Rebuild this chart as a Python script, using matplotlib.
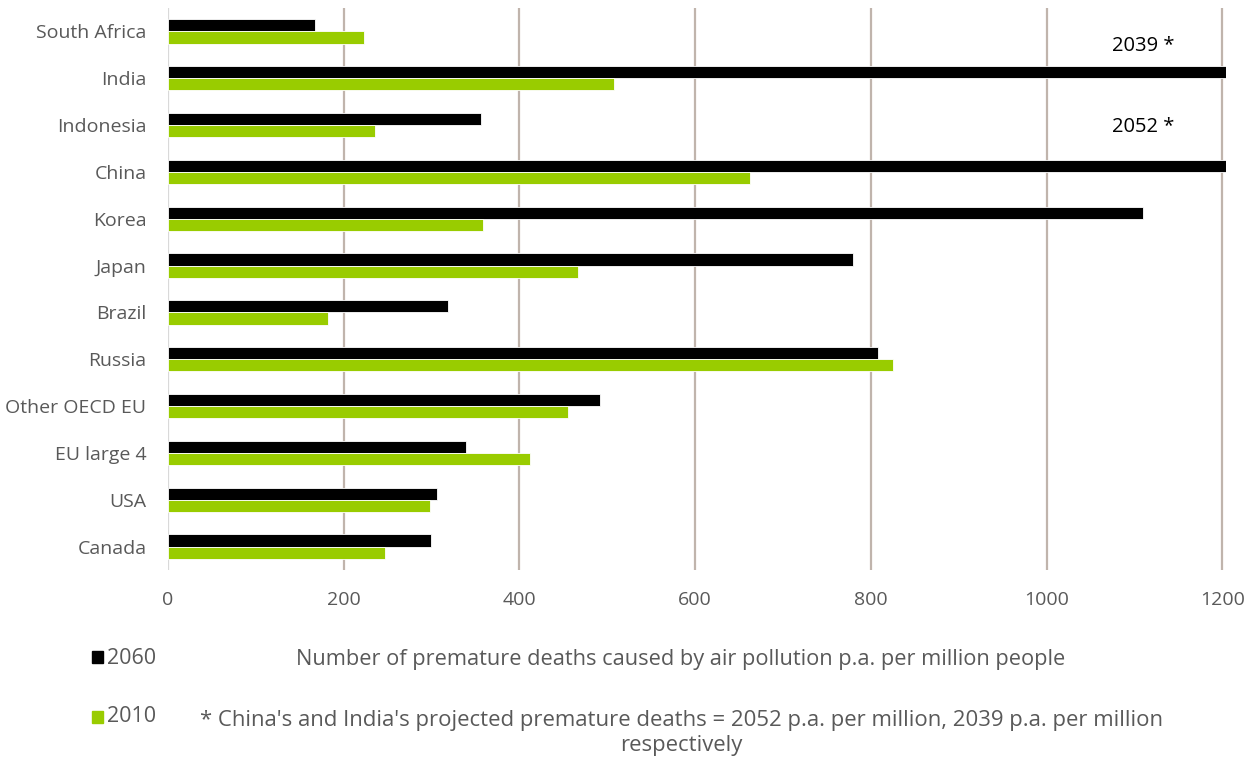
import numpy as np
import matplotlib.pyplot as plt

countries = ['South Africa', 'India', 'Indonesia', 'China', 'Korea', 'Japan',
             'Brazil', 'Russia', 'Other OECD EU', 'EU large 4', 'USA', 'Canada']
deaths_2060 = [167, 2039, 356, 2052, 1109, 779, 319, 808, 492, 339, 306, 299]
deaths_2010 = [223, 507, 236, 662, 358, 467, 182, 825, 455, 412, 298, 247]
xticks = [0, 200, 400, 600, 800, 1000, 1200]

plt.rcParams['font.family'] = ['Open Sans', 'DejaVu Sans']
grey = '#595959'

fig = plt.figure(figsize=(12.57, 7.6), dpi=100)
ax = fig.add_axes([168/1257, 1 - 570/760, (1226-168)/1257, (570-8)/760])

y = np.arange(len(countries))
h = 0.26
ax.barh(y - h/2, deaths_2060, height=h, color='black', edgecolor='white', linewidth=0.6, zorder=3)
ax.barh(y + h/2, deaths_2010, height=h, color='#99cc00', edgecolor='white', linewidth=0.6, zorder=3)

ax.set_xlim(0, 1204)
ax.set_ylim(len(countries) - 0.5, -0.5)
ax.set_yticks(y)
ax.set_yticklabels(countries)
ax.set_xticks(xticks)
ax.tick_params(length=0, labelsize=14, colors=grey)
ax.tick_params(axis='x', pad=15)
ax.tick_params(axis='y', pad=15.5)
for s in ax.spines.values():
    s.set_visible(False)
for t in xticks[1:]:
    ax.axvline(t, color='#c0b4ac', linewidth=1.6, zorder=1)
ax.axvline(0, color='#d9d9d9', linewidth=1.6, zorder=1)

ax.text(1110, 0.31, '2039 *', fontsize=14.5, ha='center', va='center', color='black')
ax.text(1110, 2.04, '2052 *', fontsize=14.5, ha='center', va='center', color='black')

# legend & notes
fig.patches.append(plt.Rectangle((92/1257, 1 - 663/760), 11/1257, 12/760,
                                 transform=fig.transFigure, color='black'))
fig.patches.append(plt.Rectangle((92/1257, 1 - 723/760), 11/1257, 12/760,
                                 transform=fig.transFigure, color='#99cc00'))
fig.text(107/1257, 1 - 658/760, '2060', fontsize=15.5, color=grey, va='center')
fig.text(107/1257, 1 - 717/760, '2010', fontsize=15.5, color=grey, va='center')
fig.text(681/1257, 1 - 660/760, 'Number of premature deaths caused by air pollution p.a. per million people',
         fontsize=15.7, color=grey, ha='center', va='center')
fig.text(681/1257, 1 - 733/760,
         "* China's and India's projected premature deaths = 2052 p.a. per million, 2039 p.a. per million\nrespectively",
         fontsize=15.9, color=grey, ha='center', va='center', linespacing=1.3)

fig.savefig('out.png', dpi=100)
